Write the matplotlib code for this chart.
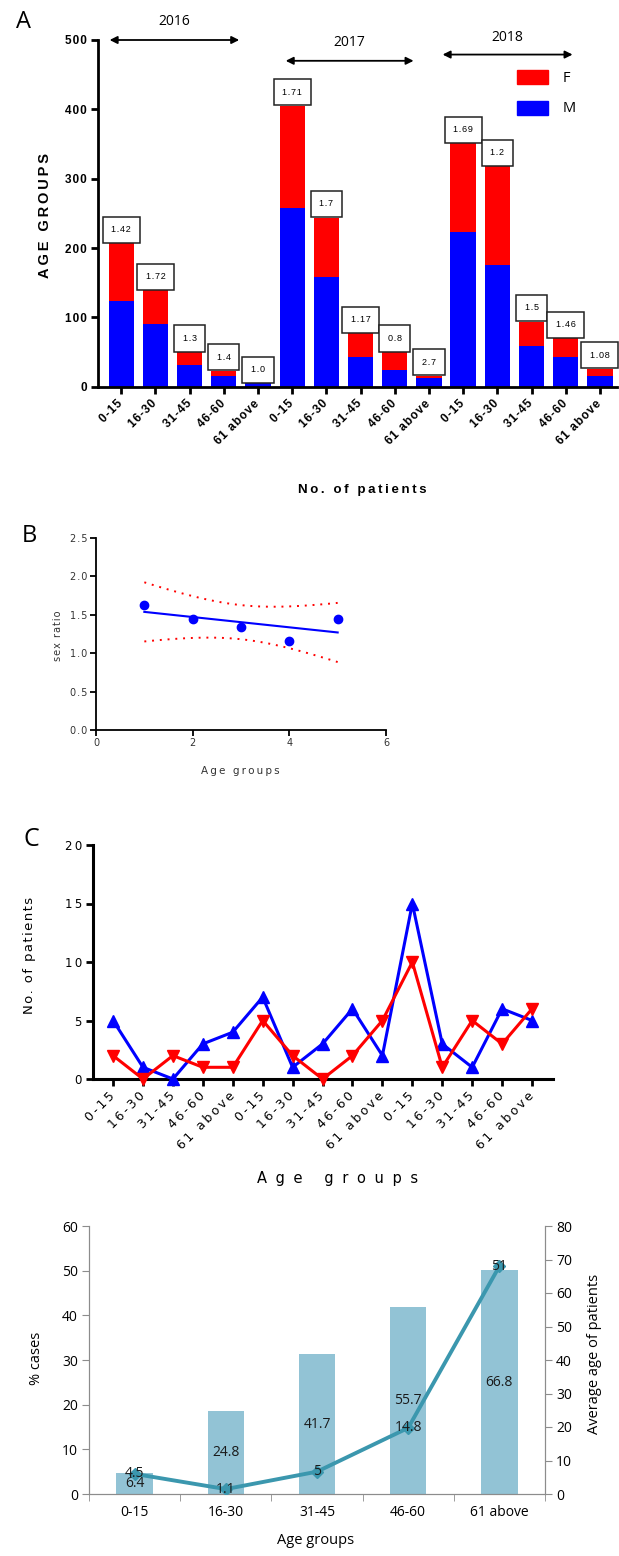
import numpy as np
import matplotlib
matplotlib.use('Agg')
import matplotlib.pyplot as plt
from matplotlib.patches import Patch

# ---- data ----
groups = ['0-15', '16-30', '31-45', '46-60', '61 above']
years = ['2016', '2017', '2018']

# A: stacked bars per year and age group
male_a = [123, 91, 31, 16, 5, 257, 158, 43, 24, 13, 223, 176, 59, 43, 15]
female_a = [84, 48, 19, 7, 0, 148, 86, 34, 26, 3, 128, 142, 35, 27, 11]
ratio_a = ['1.42', '1.72', '1.3', '1.4', '1.0', '1.71', '1.7', '1.17', '0.8', '2.7',
           '1.69', '1.2', '1.5', '1.46', '1.08']

# B: sex ratio vs age group
group_no = [1, 2, 3, 4, 5]
sex_ratio = [1.63, 1.45, 1.34, 1.16, 1.44]

# C: counts per year and age group
male_c = [5, 1, 0, 3, 4, 7, 1, 3, 6, 2, 15, 3, 1, 6, 5]
female_c = [2, 0, 2, 1, 1, 5, 2, 0, 2, 5, 10, 1, 5, 3, 6]

# D: % cases (line) and average age (bars)
pct_cases = [4.5, 1.1, 5, 14.8, 51]
avg_age = [6.4, 24.8, 41.7, 55.7, 66.8]

W, H = 619, 1556


def rect(x0, y0, x1, y1):
    # pixel box (top-left origin) -> figure fraction rect
    return [x0 / W, 1 - y1 / H, (x1 - x0) / W, (y1 - y0) / H]


def px(x, y):
    return x / W, 1 - y / H


def spaced(s, n=1, sp='\u2009'):
    return (sp * n).join(s)


HAIR = '\u200a'

fig = plt.figure(figsize=(W / 100, H / 100), dpi=100)
arial = ['Liberation Sans', 'DejaVu Sans']

# ================= A =================
axA = fig.add_axes(rect(98, 40, 617, 386.7))
x = np.arange(len(male_a))
tot_a = np.array(male_a) + np.array(female_a)
axA.bar(x, male_a, width=0.74, color='#0000ff', zorder=2)
axA.bar(x, female_a, bottom=male_a, width=0.74, color='#ff0000', zorder=2)
axA.set_xlim(-0.68, 14.5)
axA.set_ylim(0, 500)
axA.set_yticks(range(0, 501, 100))
axA.set_xticks(x)
axA.set_xticklabels([spaced(g, 1, HAIR) for g in groups * 3], rotation=45, ha='right',
                    va='center', rotation_mode='anchor', fontsize=8.5,
                    fontweight='bold', family=arial)
axA.set_yticklabels([spaced(str(v), 1, HAIR) for v in range(0, 501, 100)],
                    fontweight='bold', family=arial, fontsize=8.5)
for s in ['top', 'right']:
    axA.spines[s].set_visible(False)
for s in ['left', 'bottom']:
    axA.spines[s].set_linewidth(2)
axA.tick_params(width=2, length=5, direction='out', pad=3)
axA.tick_params(axis='x', pad=6)

for i in x:
    axA.annotate(spaced(ratio_a[i], 1, HAIR), (i, tot_a[i]), xytext=(0, 6.5),
                 textcoords='offset points', ha='center', va='bottom',
                 fontsize=6.5, family=arial, zorder=4,
                 bbox=dict(boxstyle='square,pad=0.95', fc='white', ec='#222222', lw=1.1))

# year arrows
year_spans = [(-0.34, 3.45, 500, 526), (4.81, 8.55, 470, 497), (9.4, 13.2, 479, 504)]
for yr, (x0, x1, ya, yt) in zip(years, year_spans):
    axA.annotate('', xy=(x1, ya), xytext=(x0, ya), annotation_clip=False,
                 arrowprops=dict(arrowstyle='<|-|>', color='black', lw=1.3,
                                 mutation_scale=11, shrinkA=0, shrinkB=0))
    axA.text((x0 + x1) / 2, yt, yr, ha='center', va='center', fontsize=10,
             family='Open Sans', clip_on=False)

axA.legend(handles=[Patch(color='#ff0000'), Patch(color='#0000ff')], labels=['F', 'M'],
           loc='upper left', bbox_to_anchor=px(517, 70), bbox_transform=fig.transFigure,
           frameon=False, handlelength=2.1, handleheight=1.1, labelspacing=1.0,
           borderpad=0, borderaxespad=0, handletextpad=1.0,
           prop={'family': 'Open Sans', 'size': 10.5})

fig.text(*px(45, 215), spaced('AGE GROUPS', 1), rotation=90, ha='center', va='center',
         fontsize=10.5, fontweight='bold', family=arial)
fig.text(*px(362, 490), spaced('No. of patients', 1), ha='center', va='center',
         fontsize=9.5, fontweight='bold', family=arial)
fig.text(*px(23, 22), 'A', ha='center', va='center', fontsize=17, family='Open Sans')

# ================= B =================
axB = fig.add_axes(rect(96, 538, 386, 730))
gx = np.array(group_no, dtype=float)
gy = np.array(sex_ratio)
slope, icpt = np.polyfit(gx, gy, 1)
n = len(gx)
resid = gy - (slope * gx + icpt)
s_err = np.sqrt(np.sum(resid ** 2) / (n - 2))
t_val = 3.182  # t(0.975, df=3)
xs = np.linspace(gx.min(), gx.max(), 60)
ys = slope * xs + icpt
half = t_val * s_err * np.sqrt(1 / n + (xs - gx.mean()) ** 2 / np.sum((gx - gx.mean()) ** 2))
axB.plot(xs, ys, color='#0000ff', lw=1.5)
axB.plot(xs, ys + half, color='#ff0000', lw=1.4, ls=(0, (1, 3)))
axB.plot(xs, ys - half, color='#ff0000', lw=1.4, ls=(0, (1, 3)))
axB.plot(gx, gy, 'o', color='#0000ff', ms=6)
axB.set_xlim(0, 6)
axB.set_ylim(0, 2.5)
axB.set_xticks([0, 2, 4, 6])
axB.set_yticks(np.arange(0, 2.51, 0.5))
axB.set_xticklabels([str(v) for v in [0, 2, 4, 6]], fontsize=7, color='#333333')
axB.set_yticklabels([spaced('%.1f' % v, 1, HAIR) for v in np.arange(0, 2.51, 0.5)],
                    fontsize=7, color='#333333')
for s in ['top', 'right']:
    axB.spines[s].set_visible(False)
for s in ['left', 'bottom']:
    axB.spines[s].set_linewidth(1.3)
axB.tick_params(width=1.3, length=4, direction='out', pad=2)
fig.text(*px(58, 636), spaced('sex ratio', 1, HAIR), rotation=90, ha='center',
         va='center', fontsize=7, color='#333333')
fig.text(*px(240, 771), spaced('Age groups', 1), ha='center', va='center', fontsize=7.5,
         color='#333333')
fig.text(*px(29, 536), 'B', ha='center', va='center', fontsize=17, family='Open Sans')

# ================= C =================
axC = fig.add_axes(rect(93, 845, 553, 1079))
xc = np.arange(len(male_c))
axC.plot(xc, male_c, '-^', color='#0000ff', lw=2.2, ms=9, clip_on=False, zorder=3)
axC.plot(xc, female_c, '-v', color='#ff0000', lw=2.2, ms=9, clip_on=False, zorder=4)
axC.set_xlim(-0.67, 14.7)
axC.set_ylim(0, 20)
axC.set_yticks(range(0, 21, 5))
axC.set_yticklabels([spaced(str(v), 1) for v in range(0, 21, 5)], fontsize=8.5)
axC.set_xticks(xc)
axC.set_xticklabels([spaced(g, 1) for g in groups * 3], rotation=45, ha='right',
                    va='center', rotation_mode='anchor', fontsize=9)
for s in ['top', 'right']:
    axC.spines[s].set_visible(False)
for s in ['left', 'bottom']:
    axC.spines[s].set_linewidth(2.2)
axC.tick_params(width=2, length=5, direction='out', pad=3)
axC.tick_params(axis='x', pad=6)
fig.text(*px(30, 955), spaced('No. of patients', 1, HAIR), rotation=90, ha='center',
         va='center', fontsize=9.5)
fig.text(*px(338, 1178), spaced('Age groups', 3), ha='center', va='center', fontsize=10.5)
fig.text(*px(31, 840), 'C', ha='center', va='center', fontsize=18, family='Open Sans')

# ================= D =================
ff = 'Open Sans'
gray = '#8c8c8c'
axD = fig.add_axes(rect(89, 1226, 545, 1494))
xd = np.arange(len(groups))
axD.bar(xd, avg_age, width=0.4, color='#92c3d5', zorder=1)
axD.set_ylim(0, 80)
axD.set_xlim(-0.5, 4.5)
for i, v in enumerate(avg_age):
    axD.text(i, v / 2, str(v), ha='center', va='center', fontsize=10, family=ff,
             color='#1a1a1a')

axD2 = axD.twinx()
axD2.plot(xd, pct_cases, '-D', color='#3b97ae', lw=2.8, ms=6, zorder=3)
axD2.set_ylim(0, 60)
for i, v in enumerate(pct_cases):
    axD2.text(i, v, '%g' % v, ha='center', va='center', fontsize=10, family=ff,
              color='#1a1a1a', zorder=5)

# bars use the right scale, line the left one
axD.yaxis.tick_right()
axD.yaxis.set_label_position('right')
axD2.yaxis.tick_left()
axD2.yaxis.set_label_position('left')
axD.set_yticks(range(0, 81, 10))
axD2.set_yticks(range(0, 61, 10))

axD.set_xticks(xd)
axD.set_xticklabels(groups, fontsize=10, family=ff)
axD.set_xticks(np.arange(-0.5, 4.6, 1), minor=True)
axD.tick_params(axis='x', which='major', length=0, pad=8)
axD.tick_params(axis='x', which='minor', length=5, color=gray)
for a in (axD, axD2):
    a.spines['top'].set_visible(False)
    for s in ['left', 'right', 'bottom']:
        a.spines[s].set_color(gray)
    a.tick_params(axis='y', length=5, color=gray, labelsize=10, pad=3)
for lab in axD.get_yticklabels() + axD2.get_yticklabels():
    lab.set_family(ff)

fig.text(*px(37, 1358), '% cases', rotation=90, ha='center', va='center', fontsize=10.5,
         family=ff)
fig.text(*px(594, 1354), 'Average age of patients', rotation=90, ha='center',
         va='center', fontsize=10.5, family=ff)
fig.text(*px(316, 1541), 'Age groups', ha='center', va='center', fontsize=10.5, family=ff)

fig.savefig('out.png', dpi=100)
